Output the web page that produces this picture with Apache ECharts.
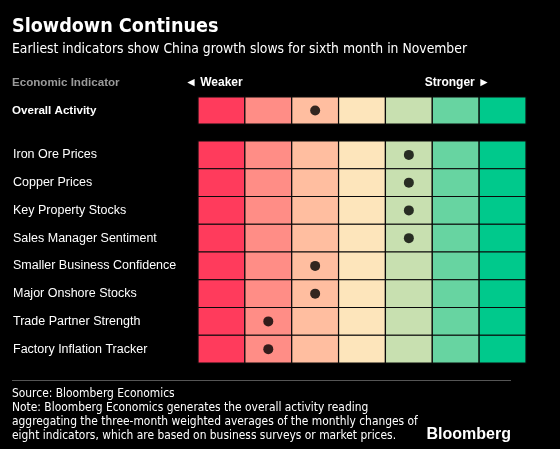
<!DOCTYPE html>
<html>
<head>
<meta charset="utf-8">
<script src="https://cdn.jsdelivr.net/npm/echarts@6/dist/echarts.min.js"></script>
<style>
html,body{margin:0;padding:0;background:#000;}
#chart{width:560px;height:449px;}
</style>
</head>
<body>
<div id="chart"></div>
<script>
// ---- data ----
const levels = ['1', '2', '3', '4', '5', '6', '7'];
const overallLabel = ['Overall Activity'];
const overallLevel = [2];
const indicators = [
  'Iron Ore Prices',
  'Copper Prices',
  'Key Property Stocks',
  'Sales Manager Sentiment',
  'Smaller Business Confidence',
  'Major Onshore Stocks',
  'Trade Partner Strength',
  'Factory Inflation Tracker'
];
const indicatorLevels = [4, 4, 4, 4, 2, 2, 1, 1];

// ---- style ----
const palette = ['#FF3B5C', '#FF8D86', '#FFBEA0', '#FDE5BB', '#C8E0B0', '#67D4A1', '#00C98C'];

const chart = echarts.init(document.getElementById('chart'), null, {renderer: 'canvas'});

function cellsFor(rows) {
  const out = [];
  rows.forEach((r, ri) => levels.forEach((l, ci) => out.push([ci, ri])));
  return out;
}
function renderCell(params, api) {
  const c = api.coord([api.value(0), api.value(1)]);
  const s = api.size([1, 1]);
  return {
    type: 'rect',
    shape: {x: c[0] - s[0] / 2, y: c[1] - s[1] / 2, width: s[0], height: s[1]},
    style: {fill: palette[api.value(0)], stroke: '#0a0a0a', lineWidth: 1.2}
  };
}

const labelFont = 'Liberation Sans, Arial, sans-serif';
const condFont = '"DejaVu Sans Condensed", "DejaVu Sans"';

chart.setOption({
  backgroundColor: '#000',
  animation: false,
  grid: [
    {left: 198, width: 328, top: 97, height: 27},
    {left: 198, width: 328, top: 141, height: 222}
  ],
  xAxis: [
    {gridIndex: 0, type: 'category', data: levels, show: false},
    {gridIndex: 1, type: 'category', data: levels, show: false}
  ],
  yAxis: [
    {gridIndex: 0, type: 'category', data: overallLabel, inverse: true,
     axisLine: {show: false}, axisTick: {show: false}, splitLine: {show: false},
     axisLabel: {align: 'left', margin: 186, color: '#fff', fontWeight: 'bold', fontSize: 11.6, fontFamily: labelFont}},
    {gridIndex: 1, type: 'category', data: indicators, inverse: true,
     axisLine: {show: false}, axisTick: {show: false}, splitLine: {show: false},
     axisLabel: {align: 'left', margin: 185, color: '#fff', fontSize: 12.5, fontFamily: labelFont}}
  ],
  series: [
    {type: 'custom', xAxisIndex: 0, yAxisIndex: 0, renderItem: renderCell, data: cellsFor(overallLabel), silent: true},
    {type: 'custom', xAxisIndex: 1, yAxisIndex: 1, renderItem: renderCell, data: cellsFor(indicators), silent: true},
    {type: 'scatter', xAxisIndex: 0, yAxisIndex: 0, symbolSize: 10, itemStyle: {color: '#000'},
     data: overallLevel.map((v, i) => [v, i]), silent: true},
    {type: 'scatter', xAxisIndex: 1, yAxisIndex: 1, symbolSize: 10, itemStyle: {color: '#000'},
     data: indicatorLevels.map((v, i) => [v, i]), silent: true}
  ],
  graphic: [
    {type: 'text', left: 12, top: 17, style: {text: 'Slowdown Continues', fill: '#fff', font: 'bold 19.6px ' + condFont}},
    {type: 'text', left: 12, top: 42, style: {text: 'Earliest indicators show China growth slows for sixth month in November', fill: '#fff', font: '13.8px ' + condFont}},
    {type: 'text', left: 12, top: 77, style: {text: 'Economic Indicator', fill: '#9a9a9a', font: 'bold 11.6px ' + labelFont}},
    {type: 'text', left: 185, top: 77, style: {text: '\u25C4 Weaker', fill: '#fff', font: 'bold 12px ' + labelFont}},
    {type: 'text', right: 70, top: 77, style: {text: 'Stronger \u25BA', fill: '#fff', font: 'bold 12px ' + labelFont}},
    {type: 'rect', shape: {x: 12, y: 380, width: 499, height: 1}, style: {fill: '#555'}},
    {type: 'text', left: 12, top: 387, style: {text: 'Source: Bloomberg Economics\nNote: Bloomberg Economics generates the overall activity reading\naggregating the three-month weighted averages of the monthly changes of\neight indicators, which are based on business surveys or market prices.', fill: '#fff', font: '11.9px ' + condFont, lineHeight: 14}},
    {type: 'text', right: 49, top: 427, style: {text: 'Bloomberg', fill: '#fff', font: 'bold 16px ' + labelFont}}
  ]
});
</script>
</body>
</html>
